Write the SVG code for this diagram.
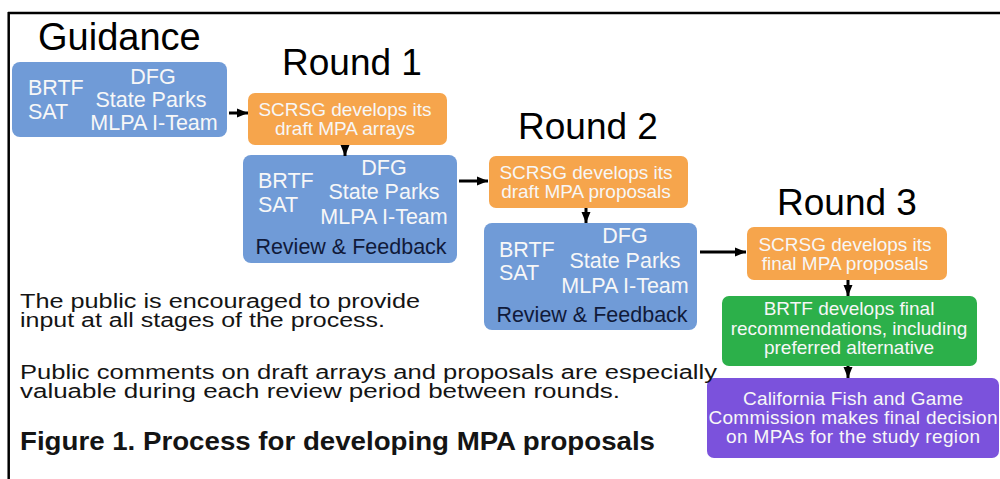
<svg xmlns="http://www.w3.org/2000/svg" width="1000" height="479" viewBox="0 0 1000 479">
<style>
.t{font-family:"Liberation Sans",Arial,Helvetica,sans-serif}
.title{font-size:37px;fill:#000}
.w{fill:#f7f7f7}
.blue{fill:#709bd7}
.orange{fill:#f6a54c}
.green{fill:#2cb04a}
.purple{fill:#7b52dc}
.bt{font-size:21.5px}
.ot{font-size:19px}
.rf{font-size:21.5px;fill:#101a3a}
.body{font-size:20px;fill:#141414}
.conn line{stroke:#000;stroke-width:3}
</style>
<defs>
<marker id="ah" markerUnits="userSpaceOnUse" markerWidth="11" markerHeight="11" refX="11" refY="5.5" orient="auto">
<path d="M0,1 L11,5.5 L0,10 z" fill="#000"/>
</marker>
</defs>
<rect width="1000" height="479" fill="#fff"/>
<line x1="8" y1="13" x2="1000" y2="13" stroke="#000" stroke-width="2.5"/>
<line x1="8.7" y1="12" x2="8.7" y2="479" stroke="#000" stroke-width="2.5"/>

<g class="t title">
<text x="38" y="50" style="font-size:38px">Guidance</text>
<text x="282" y="75">Round 1</text>
<text x="518" y="139">Round 2</text>
<text x="777" y="215">Round 3</text>
</g>

<g id="guidance">
<rect class="blue" x="12" y="62" width="215" height="75" rx="8"/>
<g class="t bt w">
<text x="28" y="95">BRTF</text>
<text x="28" y="119">SAT</text>
<g text-anchor="middle">
<text x="153" y="84">DFG</text>
<text x="151" y="107">State Parks</text>
<text x="154" y="130">MLPA I-Team</text>
</g>
</g>
</g>

<g id="r1-scrsg">
<rect class="orange" x="248" y="93" width="199" height="52" rx="7"/>
<g class="t ot w" text-anchor="middle">
<text x="345" y="116">SCRSG develops its</text>
<text x="345" y="135">draft MPA arrays</text>
</g>
</g>

<g id="r1-review">
<rect class="blue" x="243" y="155" width="214" height="108" rx="8"/>
<g class="t bt w">
<text x="258" y="188">BRTF</text>
<text x="258" y="212">SAT</text>
<g text-anchor="middle">
<text x="384" y="175">DFG</text>
<text x="384" y="199">State Parks</text>
<text x="384" y="224">MLPA I-Team</text>
</g>
</g>
<text class="t rf" x="351" y="254" text-anchor="middle">Review &amp; Feedback</text>
</g>

<g id="r2-scrsg">
<rect class="orange" x="489" y="156" width="199" height="52" rx="7"/>
<g class="t ot w" text-anchor="middle">
<text x="586" y="179">SCRSG develops its</text>
<text x="586" y="198">draft MPA proposals</text>
</g>
</g>

<g id="r2-review">
<rect class="blue" x="484" y="223" width="213" height="107" rx="8"/>
<g class="t bt w">
<text x="499" y="257">BRTF</text>
<text x="499" y="280">SAT</text>
<g text-anchor="middle">
<text x="625" y="243">DFG</text>
<text x="625" y="268">State Parks</text>
<text x="625" y="293">MLPA I-Team</text>
</g>
</g>
<text class="t rf" x="592" y="322" text-anchor="middle">Review &amp; Feedback</text>
</g>

<g id="r3-scrsg">
<rect class="orange" x="747" y="227" width="200" height="53" rx="7"/>
<g class="t ot w" text-anchor="middle">
<text x="845" y="251">SCRSG develops its</text>
<text x="845" y="270">final MPA proposals</text>
</g>
</g>

<g id="r3-brtf">
<rect class="green" x="722" y="296" width="255" height="70" rx="7"/>
<g class="t w" style="font-size:19px" text-anchor="middle">
<text x="849" y="315">BRTF develops final</text>
<text x="849" y="335">recommendations, including</text>
<text x="849" y="354">preferred alternative</text>
</g>
</g>

<g id="commission">
<rect class="purple" x="707" y="378" width="292" height="80" rx="7"/>
<g class="t w" style="font-size:19px" text-anchor="middle">
<text x="853" y="405" textLength="220">California Fish and Game</text>
<text x="853" y="424" textLength="289">Commission makes final decision</text>
<text x="853" y="443" textLength="254">on MPAs for the study region</text>
</g>
</g>

<g class="conn">
<line x1="229" y1="113" x2="248" y2="113" marker-end="url(#ah)"/>
<line x1="345" y1="145" x2="345" y2="156" marker-end="url(#ah)"/>
<line x1="459" y1="181" x2="488" y2="181" marker-end="url(#ah)"/>
<line x1="586" y1="208" x2="586" y2="223" marker-end="url(#ah)"/>
<line x1="700" y1="252" x2="746" y2="252" marker-end="url(#ah)"/>
<line x1="848" y1="280" x2="848" y2="296" marker-end="url(#ah)"/>
<line x1="848" y1="366" x2="848" y2="378" marker-end="url(#ah)"/>
</g>

<g id="notes" class="t body">
<text x="20" y="308" textLength="400" lengthAdjust="spacingAndGlyphs">The public is encouraged to provide</text>
<text x="20" y="327" textLength="365" lengthAdjust="spacingAndGlyphs">input at all stages of the process.</text>
<text x="20" y="379" textLength="697" lengthAdjust="spacingAndGlyphs">Public comments on draft arrays and proposals are especially</text>
<text x="20" y="398" textLength="600" lengthAdjust="spacingAndGlyphs">valuable during each review period between rounds.</text>
<text x="20" y="450" textLength="635" lengthAdjust="spacingAndGlyphs" style="font-size:26px;font-weight:bold">Figure 1. Process for developing MPA proposals</text>
</g>
</svg>
